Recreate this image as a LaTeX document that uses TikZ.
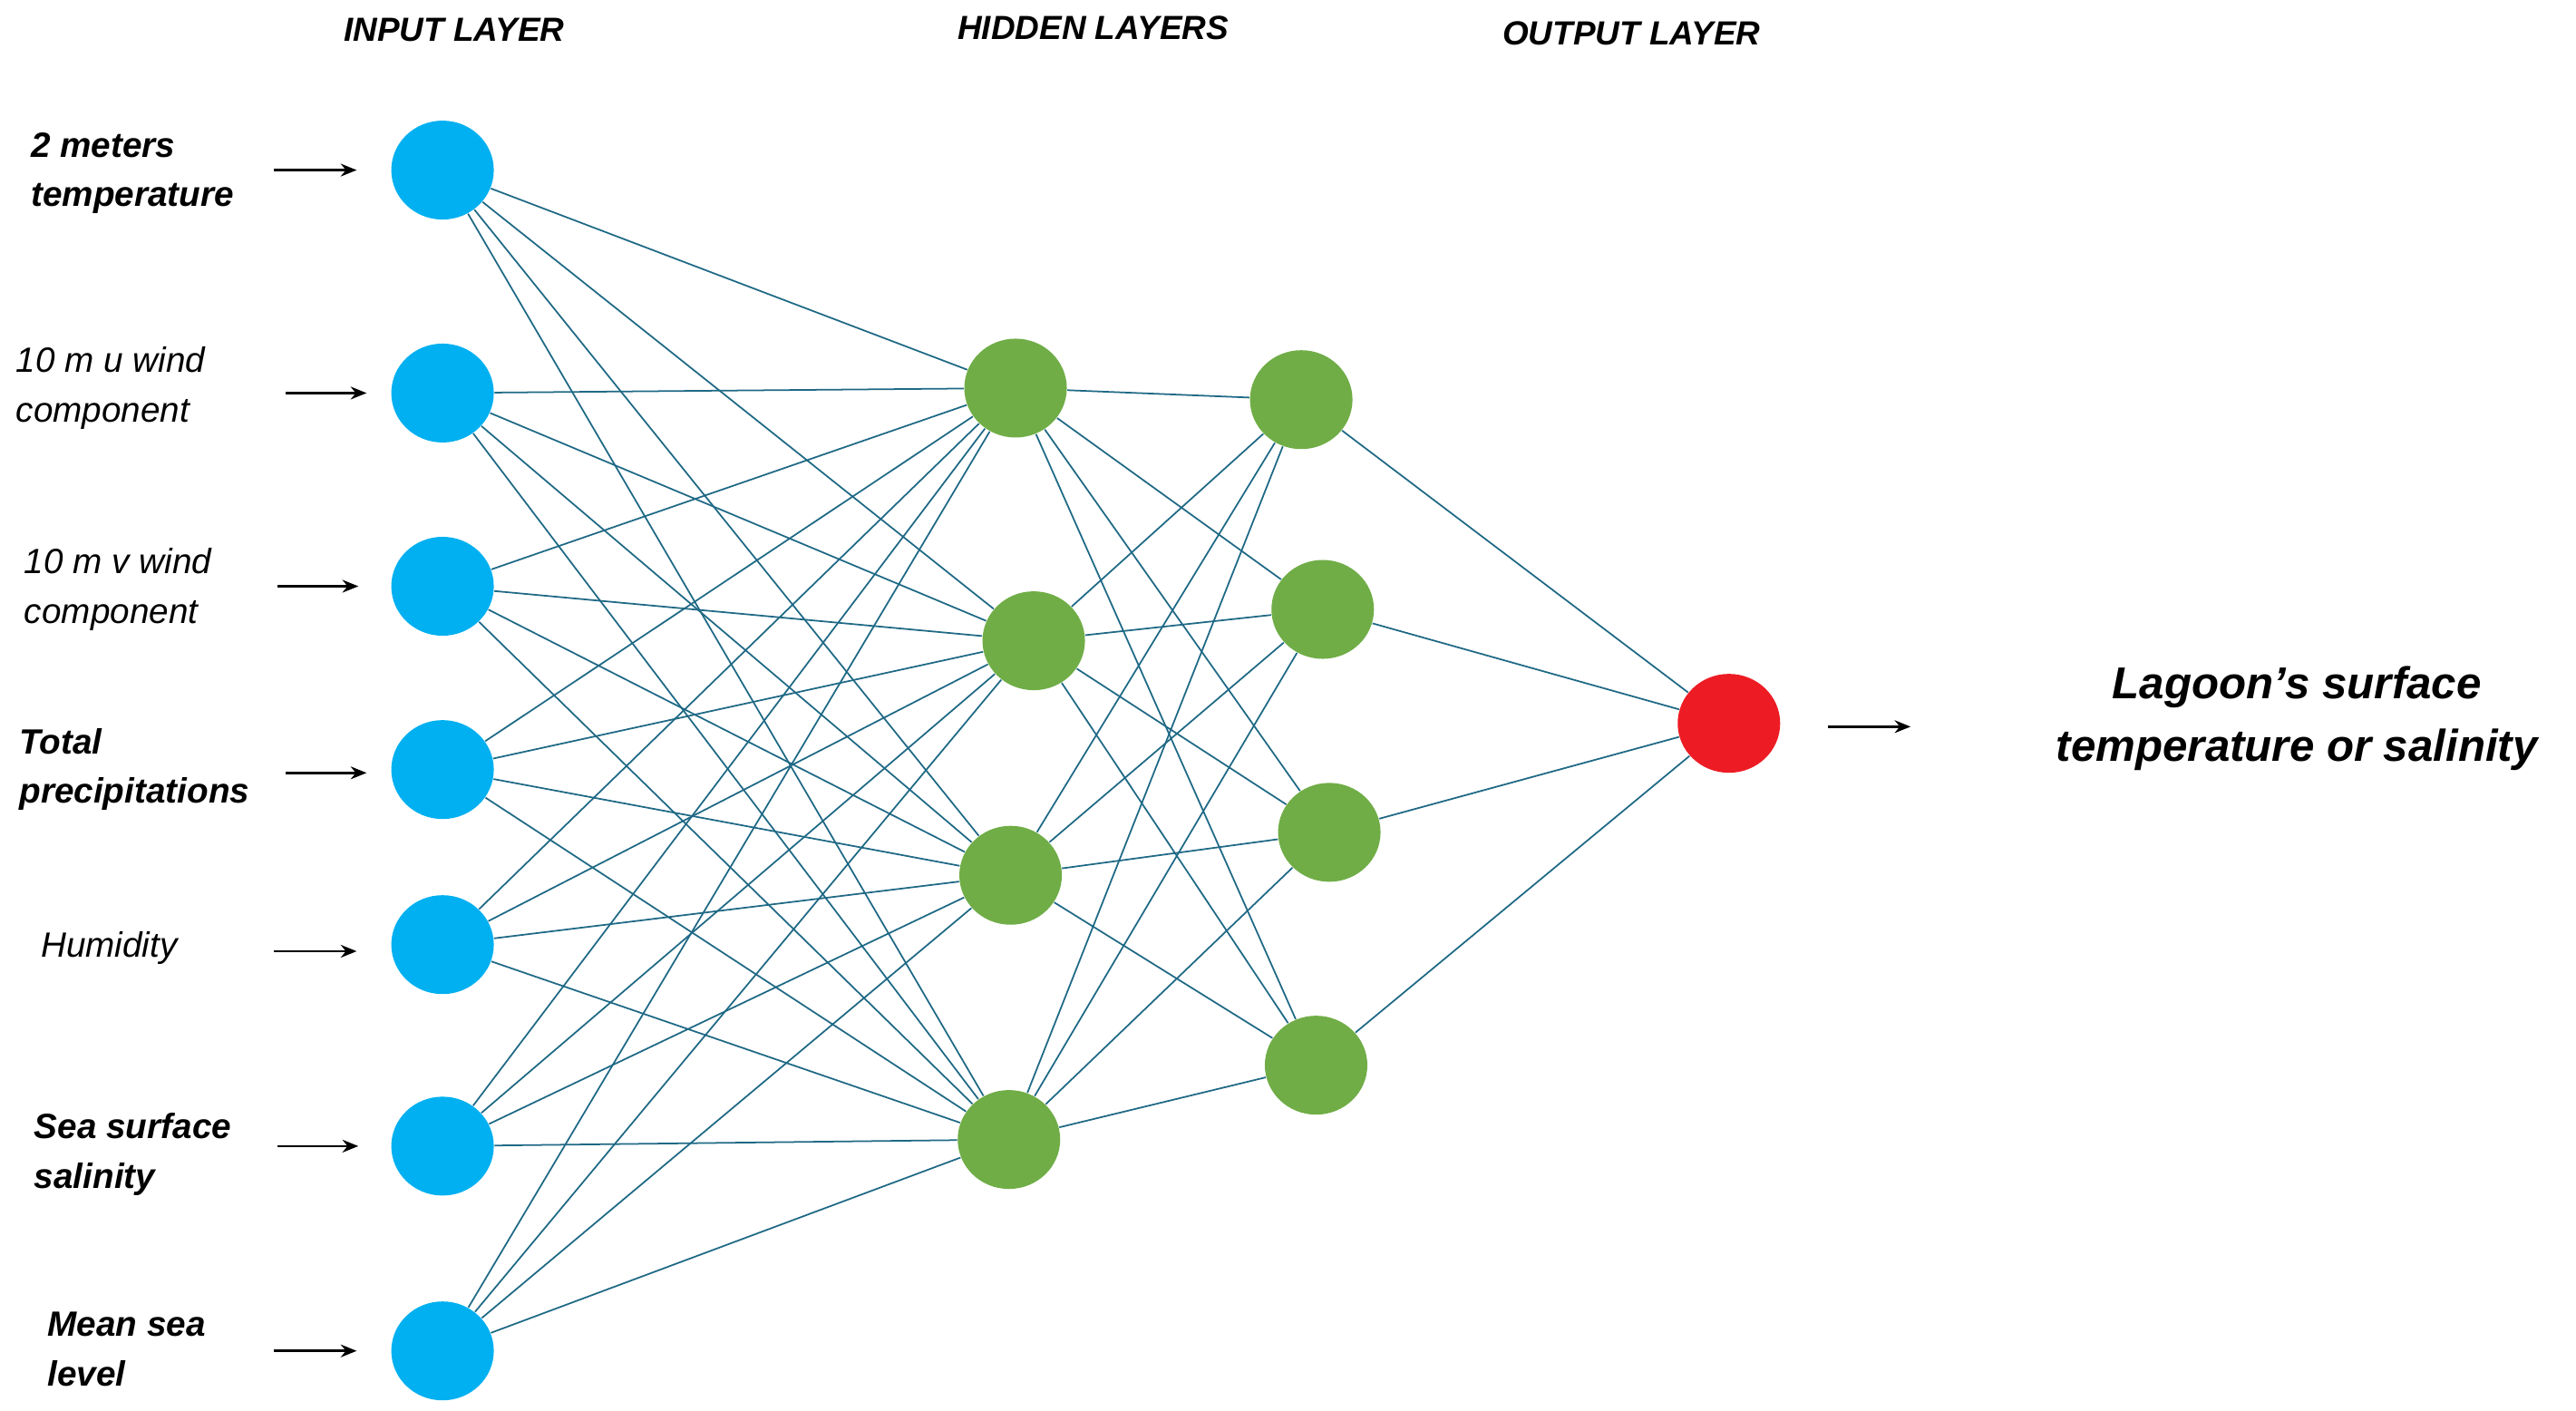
\documentclass[tikz,border=0pt]{standalone}
\usepackage{fontspec}
\setmainfont{Liberation Sans}
\usetikzlibrary{shapes.geometric,arrows.meta}
\definecolor{inb}{RGB}{0,176,240}
\definecolor{hidg}{RGB}{112,173,71}
\definecolor{outr}{RGB}{237,28,36}
\definecolor{edg}{RGB}{31,105,133}
\begin{document}
\begin{tikzpicture}[x=0.01821cm,y=-0.01821cm,
  neu/.style={ellipse,minimum width=1.13cm,minimum height=1.09cm,inner sep=0pt,draw=none},
  ed/.style={draw=edg,line width=0.5pt},
  ar/.style={-{Stealth[length=5pt,width=4pt]},line width=0.7pt},
  hdr/.style={font=\fontsize{10.5}{12}\selectfont\bfseries\itshape},
  lb/.style={anchor=west,align=left,font=\fontsize{11}{15.5}\selectfont\itshape},
  lbb/.style={lb,font=\fontsize{11}{15.5}\selectfont\bfseries\itshape}]
\useasboundingbox (0,0) rectangle (1560,854);
\foreach \n/\y in {1/103,2/238,3/355,4/466,5/572,6/694,7/818}
  \node[neu,fill=inb] (i\n) at (268,\y) {};
\node[neu,fill=hidg] (a1) at (615,235) {};
\node[neu,fill=hidg] (a2) at (626,388) {};
\node[neu,fill=hidg] (a3) at (612,530) {};
\node[neu,fill=hidg] (a4) at (611,690) {};
\node[neu,fill=hidg] (b1) at (788,242) {};
\node[neu,fill=hidg] (b2) at (801,369) {};
\node[neu,fill=hidg] (b3) at (805,504) {};
\node[neu,fill=hidg] (b4) at (797,645) {};
\node[neu,fill=outr] (o) at (1047,438) {};
\foreach \i in {1,...,7} \foreach \j in {1,...,4} \draw[ed] (i\i) -- (a\j);
\foreach \i in {1,...,4} \foreach \j in {1,...,4} \draw[ed] (a\i) -- (b\j);
\foreach \i in {1,...,4} \draw[ed] (b\i) -- (o);
\node[hdr] (h1) at (275,18) {INPUT LAYER};
\node[hdr] (h2) at (662,17) {HIDDEN LAYERS};
\node[hdr] (h3) at (988,20) {OUTPUT LAYER};
\node[lbb] (l1) at (12,105) {2 meters\\temperature};
\node[lb] (l2) at (3,235) {10 m u wind\\component};
\node[lb] (l3) at (8,357) {10 m v wind\\component};
\node[lbb] (l4) at (5,466) {Total\\precipitations};
\node[lb] (l5) at (18,574) {Humidity};
\node[lbb] (l6) at (14,699) {Sea surface\\salinity};
\node[lbb] (l7) at (22,817) {Mean sea\\level};
\foreach \n/\y/\a/\b in {1/103/166/216,2/238/173/222,3/355/168/217,4/468/173/222,5/576/166/216,6/694/168/217,7/818/166/216}{
  \coordinate (s\n) at (\a,\y); \coordinate (e\n) at (\b,\y);
  \draw[ar] (s\n) -- (e\n);}
\coordinate (so) at (1107,440); \coordinate (eo) at (1157,440);
\draw[ar] (so) -- (eo);
\node[align=center,font=\fontsize{14}{19.5}\selectfont\bfseries\itshape] (res) at (1391,435) {Lagoon’s surface\\temperature or salinity};
\end{tikzpicture}
\end{document}
